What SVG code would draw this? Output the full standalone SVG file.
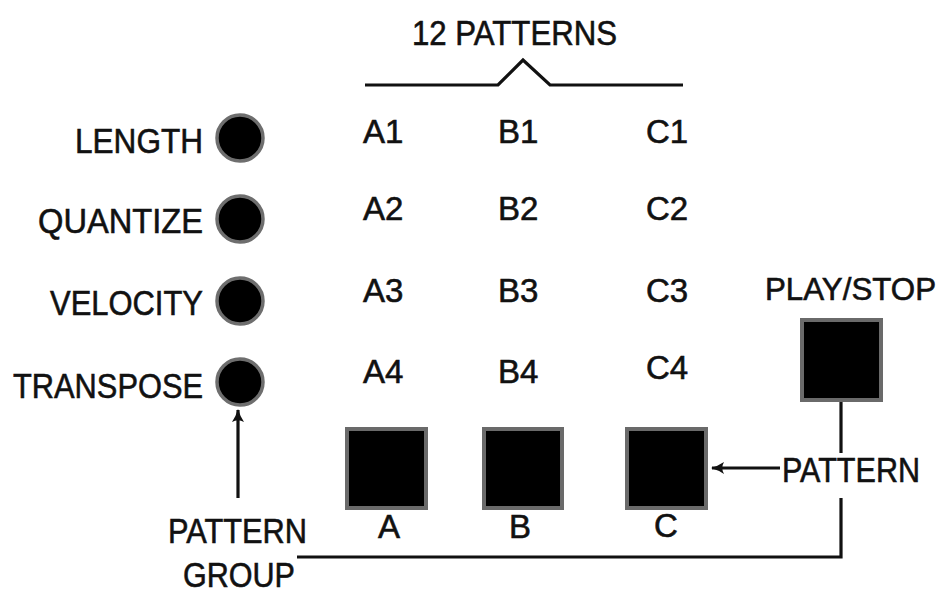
<svg xmlns="http://www.w3.org/2000/svg" width="945" height="593" viewBox="0 0 945 593">
<style>
text{font-family:"Liberation Sans",Arial,sans-serif;fill:#111;stroke:#111;stroke-width:0.6;}
.lbl{font-size:35px;}
.g{font-size:33px;}
.knob{fill:#000;stroke:#6e6e6e;stroke-width:3.5;}
.pad{fill:#000;stroke:#6a6a6a;stroke-width:4;}
.ln{fill:none;stroke:#111;stroke-width:3.2;stroke-linejoin:miter;}
</style>
<defs>
<marker id="ah" viewBox="0 0 14 14" refX="13" refY="7" markerWidth="14" markerHeight="14" markerUnits="userSpaceOnUse" orient="auto-start-reverse">
<path d="M1,1 Q7,5 14,7 Q7,9 1,13 Q4.5,7 1,1 Z" fill="#111"/>
</marker>
</defs>
<rect width="945" height="593" fill="#fff"/>

<g id="title">
<text class="lbl" x="412" y="45" textLength="205" lengthAdjust="spacingAndGlyphs">12 PATTERNS</text>
</g>

<g id="knob-length"><text class="lbl" x="203" y="153" text-anchor="end" textLength="128" lengthAdjust="spacingAndGlyphs">LENGTH</text><circle class="knob" cx="240" cy="138" r="23"/></g>
<g id="knob-quantize"><text class="lbl" x="203" y="233" text-anchor="end" textLength="165" lengthAdjust="spacingAndGlyphs">QUANTIZE</text><circle class="knob" cx="240" cy="219" r="23"/></g>
<g id="knob-velocity"><text class="lbl" x="203" y="315" text-anchor="end" textLength="153" lengthAdjust="spacingAndGlyphs">VELOCITY</text><circle class="knob" cx="240" cy="301" r="23"/></g>
<g id="knob-transpose"><text class="lbl" x="203" y="398" text-anchor="end" textLength="190" lengthAdjust="spacingAndGlyphs">TRANSPOSE</text><circle class="knob" cx="240" cy="382" r="23"/></g>

<g id="patterns">
<text class="g" x="363" y="143">A1</text><text class="g" x="498" y="143">B1</text><text class="g" x="646" y="143">C1</text>
<text class="g" x="363" y="220">A2</text><text class="g" x="498" y="220">B2</text><text class="g" x="646" y="220">C2</text>
<text class="g" x="363" y="302">A3</text><text class="g" x="498" y="302">B3</text><text class="g" x="646" y="302">C3</text>
<text class="g" x="363" y="383">A4</text><text class="g" x="498" y="383">B4</text><text class="g" x="646" y="379">C4</text>
</g>

<g id="pad-a"><rect class="pad" x="347" y="429" width="79" height="79"/><text class="g" x="389" y="538" text-anchor="middle">A</text></g>
<g id="pad-b"><rect class="pad" x="484" y="429" width="78" height="79"/><text class="g" x="520" y="538" text-anchor="middle">B</text></g>
<g id="pad-c"><rect class="pad" x="627" y="429" width="79" height="79"/><text class="g" x="666" y="537" text-anchor="middle">C</text></g>

<g id="play-stop"><text x="765" y="300" style="font-size:32px" textLength="171" lengthAdjust="spacingAndGlyphs">PLAY/STOP</text><rect class="pad" x="802" y="320" width="79" height="80"/></g>

<g id="pattern-label"><text class="lbl" x="782" y="482" textLength="138" lengthAdjust="spacingAndGlyphs">PATTERN</text></g>

<g id="pattern-group-label">
<text class="lbl" x="168" y="543" textLength="139" lengthAdjust="spacingAndGlyphs">PATTERN</text>
<text class="lbl" x="183" y="587" textLength="112" lengthAdjust="spacingAndGlyphs">GROUP</text>
</g>

<g id="connectors">
<path class="ln" d="M780 468 L712 468" marker-end="url(#ah)"/>
<path class="ln" d="M238 498 L238 410" marker-end="url(#ah)"/>
<path class="ln" d="M365 85 L498 85 L523 60 L550 85 L683 85"/>
<path class="ln" d="M841 402 L841 453"/>
<path class="ln" d="M841 498 L841 557 L297 557"/>
</g>
</svg>
